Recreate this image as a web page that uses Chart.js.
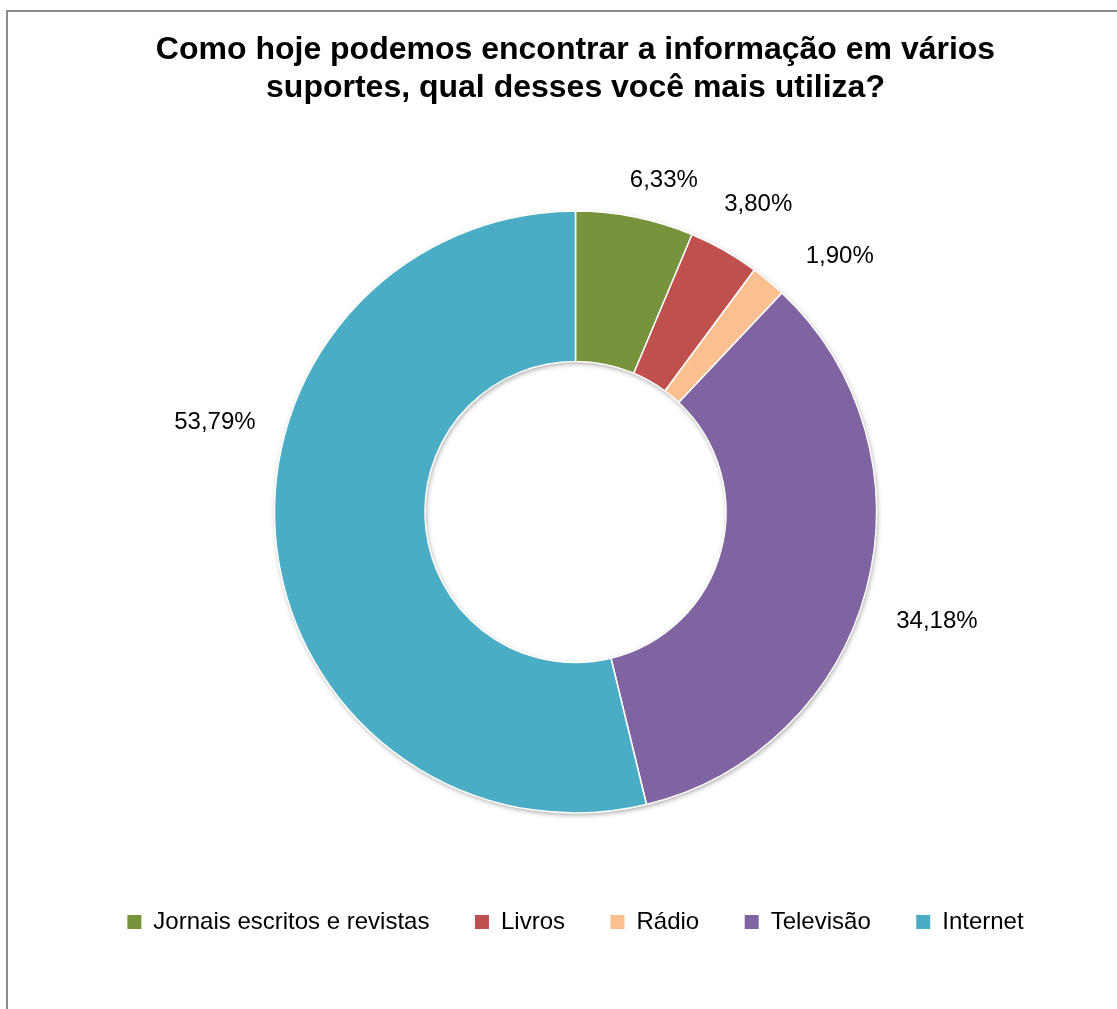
<!DOCTYPE html>
<html>
<head>
<meta charset="utf-8">
<script src="https://cdn.jsdelivr.net/npm/chart.js@4"></script>
<style>
  html, body { margin: 0; padding: 0; background: #fff; }
  canvas { display: block; }
</style>
</head>
<body>
<canvas id="c" width="1117" height="1009"></canvas>
<script>
const titleLines = ['Como hoje podemos encontrar a informação em vários', 'suportes, qual desses você mais utiliza?'];
const categories = ['Jornais escritos e revistas', 'Livros', 'Rádio', 'Televisão', 'Internet'];
const values = [6.33, 3.80, 1.90, 34.18, 53.79];
const valueLabels = ['6,33%', '3,80%', '1,90%', '34,18%', '53,79%'];
const colors = ['#77933C', '#C0504D', '#FAC090', '#8064A2', '#4BACC6'];

const FONT = '"Liberation Sans", Arial, sans-serif';

const framePlugin = {
  id: 'frame',
  beforeDraw(chart) {
    const ctx = chart.ctx;
    ctx.save();
    ctx.fillStyle = '#fff';
    ctx.fillRect(0, 0, chart.width, chart.height);
    ctx.strokeStyle = '#8c8c8c';
    ctx.lineWidth = 2;
    ctx.beginPath();
    ctx.moveTo(7, chart.height + 2);
    ctx.lineTo(7, 11);
    ctx.lineTo(chart.width + 2, 11);
    ctx.stroke();
    ctx.restore();
  }
};

const ringShadowPlugin = {
  id: 'ringShadow',
  beforeDatasetsDraw(chart) {
    const meta = chart.getDatasetMeta(0);
    if (!meta.data.length) return;
    const a = meta.data[0].getProps(['x', 'y', 'outerRadius', 'innerRadius'], true);
    const ctx = chart.ctx;
    ctx.save();
    ctx.shadowColor = 'rgba(0,0,0,0.35)';
    ctx.shadowBlur = 5;
    ctx.shadowOffsetX = 1;
    ctx.shadowOffsetY = 2;
    ctx.fillStyle = '#fff';
    ctx.beginPath();
    ctx.arc(a.x, a.y, a.outerRadius, 0, Math.PI * 2);
    ctx.arc(a.x, a.y, a.innerRadius, 0, Math.PI * 2, true);
    ctx.fill('evenodd');
    ctx.restore();
  }
};

const outsideLabelsPlugin = {
  id: 'outsideLabels',
  afterDatasetsDraw(chart, args, opts) {
    const meta = chart.getDatasetMeta(0);
    const ctx = chart.ctx;
    ctx.save();
    ctx.font = opts.font;
    ctx.fillStyle = opts.color;
    ctx.textAlign = 'center';
    ctx.textBaseline = 'middle';
    meta.data.forEach((arc, i) => {
      const p = arc.getProps(['x', 'y', 'startAngle', 'endAngle', 'outerRadius'], true);
      const mid = (p.startAngle + p.endAngle) / 2 + (opts.angleShift[i] || 0) * Math.PI / 180;
      const d = p.outerRadius + (opts.gap[i] || 40);
      ctx.fillText(valueLabels[i], p.x + d * Math.cos(mid), p.y + d * Math.sin(mid));
    });
    ctx.restore();
  }
};

const defaultGenerate = Chart.overrides.doughnut.plugins.legend.labels.generateLabels;

new Chart(document.getElementById('c'), {
  type: 'doughnut',
  data: {
    labels: categories,
    datasets: [{
      data: values,
      backgroundColor: colors,
      borderColor: '#ffffff',
      borderWidth: 1.5,
      hoverOffset: 0
    }]
  },
  options: {
    responsive: false,
    devicePixelRatio: 1,
    animation: false,
    cutout: '50%',
    layout: { padding: { left: 34, right: 0, top: 0, bottom: 65 } },
    plugins: {
      tooltip: { enabled: false },
      title: {
        display: true,
        text: titleLines,
        color: '#000',
        font: { family: FONT, size: 32, weight: 'bold', lineHeight: 1.2 },
        padding: { top: 31, bottom: 102.5 }
      },
      legend: {
        position: 'bottom',
        title: { display: true, text: ' ', font: { size: 12, lineHeight: 1.2 }, padding: { top: 36.35, bottom: 0 } },
        labels: {
          color: '#000',
          font: { family: FONT, size: 24 },
          boxWidth: 14,
          boxHeight: 14,
          padding: 45.5,
          generateLabels(chart) {
            return defaultGenerate(chart).map(it => Object.assign(it, { lineWidth: 0, strokeStyle: 'rgba(0,0,0,0)' }));
          }
        }
      },
      outsideLabels: {
        font: '24px ' + FONT,
        color: '#000',
        angleShift: [3.5, 1.1, 6.0, 2.0, 20.8],
        gap: [42.6, 56.6, 67, 76.6, 70.6]
      }
    }
  },
  plugins: [framePlugin, ringShadowPlugin, outsideLabelsPlugin]
});
</script>
</body>
</html>
